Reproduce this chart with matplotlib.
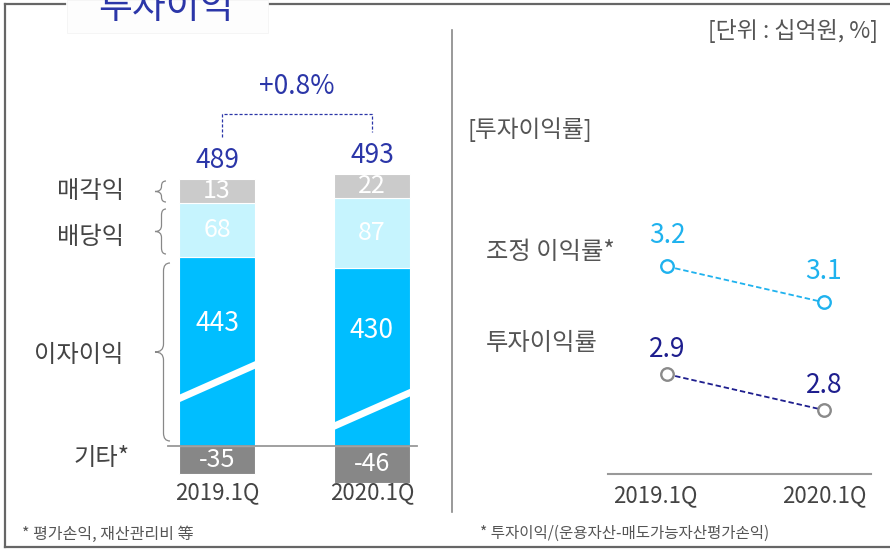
import numpy as np
import matplotlib
matplotlib.use('Agg')
import matplotlib.pyplot as plt
import matplotlib.transforms as mtransforms
from matplotlib.path import Path
from matplotlib.patches import PathPatch, Rectangle

plt.rcParams['font.family'] = ['Noto Sans CJK KR', 'DejaVu Sans']

# ---------------- data ----------------
periods = ['2019.1Q', '2020.1Q']
interest = [443, 430]      # 이자이익
dividend = [68, 87]        # 배당익
disposal = [13, 22]        # 매각익
other = [-35, -46]         # 기타*
totals = [489, 493]
adj_yield = [3.2, 3.1]     # 조정 이익률*
inv_yield = [2.9, 2.8]     # 투자이익률
seg_names = ['매각익', '배당익', '이자이익', '기타*']

# ---------------- style ----------------
C_INT = '#00BEFF'
C_DIV = '#C6F4FE'
C_DIS = '#CBCBCB'
C_OTH = '#878787'
BLUE = '#2B36A8'
CYAN = '#1FB2EE'
NAVY = '#1E1E8E'
GRAY_T = '#444444'
BREAK = 207      # broken-axis offset for 이자이익
MINBOX = 30      # minimum drawn height for small segments
stripe_frac = [(0.25, 0.43), (0.11, 0.30)]

W, H = 890, 549
fig = plt.figure(figsize=(W / 100, H / 100), dpi=100)
bg = fig.add_axes([0, 0, 1, 1])
bg.set_xlim(0, W)
bg.set_ylim(H, 0)
bg.axis('off')


def fpos(x0, y0, x1, y1):
    return [x0 / W, 1 - y1 / H, (x1 - x0) / W, (y1 - y0) / H]


# ---------------- frame ----------------
fc = '#666666'
bg.plot([5, 65], [4, 4], color=fc, lw=1.6)
bg.plot([270, 890], [4, 4], color=fc, lw=1.6)
bg.plot([5, 5], [4, 547], color=fc, lw=1.6)
bg.plot([5, 890], [547, 547], color=fc, lw=1.6)
bg.add_patch(Rectangle((67, 0), 201, 33, fc='#fdfdfd', ec='#f4f4f4', lw=0.6))
bg.text(166, 18, '투자이익', fontsize=26.5, color=BLUE, ha='center', va='baseline')
bg.plot([452, 452], [30, 512], color='#888888', lw=1.2)

# ---------------- bar chart ----------------
ax = fig.add_axes(fpos(140, 100, 450, 500))
ax.set_xlim(-(217 - 140) / 155, (450 - 217) / 155)
ax.set_ylim(-(500 - 446) / 0.8, (446 - 100) / 0.8)
ax.axis('off')

x = np.arange(len(periods))
int_d = np.array(interest) - BREAK
div_d = np.array(dividend)
dis_d = np.maximum(disposal, MINBOX)
oth_d = -np.maximum(np.abs(other), MINBOX)
bw = 0.49

b_int = ax.bar(x, int_d, width=bw, color=C_INT, edgecolor='white', linewidth=0.8)
ax.bar(x, div_d, bottom=int_d, width=bw, color=C_DIV, edgecolor='white', linewidth=0.8)
ax.bar(x, dis_d, bottom=int_d + div_d, width=bw, color=C_DIS, edgecolor='white', linewidth=0.8)
ax.bar(x, oth_d, width=bw, color=C_OTH, edgecolor='white', linewidth=0.8)

for i in range(len(periods)):
    f0, f1 = stripe_frac[i]
    ln, = ax.plot([i - bw / 2 - 0.02, i + bw / 2 + 0.02],
                  [f0 * int_d[i] - 1.5, f1 * int_d[i] + 1.5], color='white', lw=5)
    ln.set_clip_path(b_int[i])
    ax.text(i, 0.65 * int_d[i], str(interest[i]), color='white', fontsize=19,
            ha='center', va='center')
    ax.text(i, int_d[i] + div_d[i] / 2, str(dividend[i]), color='white', fontsize=18,
            ha='center', va='center')
    ax.text(i, int_d[i] + div_d[i] + dis_d[i] / 2, str(disposal[i]), color='white',
            fontsize=18, ha='center', va='center')
    ax.text(i, oth_d[i] / 2, str(other[i]), color='white', fontsize=18,
            ha='center', va='center')
    ax.text(i, -59, periods[i], color=GRAY_T, fontsize=16, ha='center', va='center')

ax.plot([-0.316, 1.29], [0, 0], color='#999999', lw=1.3)

tops = int_d + div_d + dis_d
for i in range(len(periods)):
    ax.annotate(str(totals[i]), (i, tops[i]), xytext=(0, 13), textcoords='offset points',
                ha='center', va='center', fontsize=19, color=BLUE)

yh = max(tops) + 75
ax.plot([0.03, 0.03, 1.0, 1.0], [tops[0] + 52, yh, yh, tops[1] + 52], color=BLUE,
        lw=0.9, ls=(0, (2.5, 1.5)), clip_on=False)
growth = (totals[1] / totals[0] - 1) * 100
ax.annotate(f'+{growth:.1f}%', (0.515, yh), xytext=(0, 20), textcoords='offset points',
            ha='center', va='center', fontsize=19, color=BLUE)

# labels and braces on the left
lab_y = [191, 237, 355, 458]
lab_x = [124, 124, 124, 130]
for name, lx, ly in zip(seg_names, lab_x, lab_y):
    bg.text(lx, ly, name, ha='right', va='center', fontsize=17.5, color=GRAY_T)


def brace(xr, xt, y0, y1, r=6):
    ym = (y0 + y1) / 2
    xm = (xr + xt) / 2 + 1
    verts = [(xr, y0), (xm, y0), (xm, y0 + r), (xm, ym - r), (xm, ym), (xt, ym),
             (xm, ym), (xm, ym + r), (xm, y1 - r), (xm, y1), (xr, y1)]
    codes = [Path.MOVETO, Path.CURVE3, Path.CURVE3, Path.LINETO, Path.CURVE3, Path.CURVE3,
             Path.CURVE3, Path.CURVE3, Path.LINETO, Path.CURVE3, Path.CURVE3]
    bg.add_patch(PathPatch(Path(verts, codes), fc='none', ec='#888888', lw=0.9))


brace(166, 155, 181, 202, r=5)
brace(166, 155, 209, 254)
brace(170, 155, 263, 441, r=8)

# ---------------- right: yields ----------------
bg.text(878, 31, '[단위 : 십억원, %]', ha='right', va='center', fontsize=16.5, color='#555555')
bg.text(467, 130, '[투자이익률]', ha='left', va='center', fontsize=17, color='#555555')
bg.text(486, 252, '조정 이익률*', ha='left', va='center', fontsize=17.5, color='#555555')
bg.text(486, 343, '투자이익률', ha='left', va='center', fontsize=17.5, color='#555555')

ax2 = fig.add_axes(fpos(608, 200, 871, 474))
ax2.set_xlim(-0.376, 1.299)
ax2.set_ylim(2.622, 3.385)
for s in ['top', 'left', 'right']:
    ax2.spines[s].set_visible(False)
ax2.spines['bottom'].set_color('#999999')
ax2.spines['bottom'].set_linewidth(1.5)
ax2.set_yticks([])
ax2.set_xticks(x)
ax2.set_xticklabels(periods, fontsize=16, color=GRAY_T)
ax2.tick_params(axis='x', length=0, pad=7)
lab0 = ax2.get_xticklabels()[0]
lab0.set_transform(lab0.get_transform() +
                   mtransforms.ScaledTranslation(-12 / 100, 0, fig.dpi_scale_trans))
ax2.patch.set_alpha(0)

ax2.plot(x, adj_yield, ls=(0, (3, 1.6)), color=CYAN, lw=1.3, marker='o', ms=9,
         mfc='white', mec=CYAN, mew=1.7, clip_on=False)
ax2.plot(x, inv_yield, ls=(0, (3, 1.6)), color=NAVY, lw=1.3, marker='o', ms=9,
         mfc='white', mec='#8A8A8A', mew=1.7, clip_on=False)
for i in range(len(periods)):
    ax2.annotate(f'{adj_yield[i]:.1f}', (i, adj_yield[i]), xytext=(0, 22),
                 textcoords='offset points', ha='center', va='center', fontsize=19, color=CYAN)
    ax2.annotate(f'{inv_yield[i]:.1f}', (i, inv_yield[i]), xytext=(0, 18),
                 textcoords='offset points', ha='center', va='center', fontsize=19, color=NAVY)

# footnotes
bg.text(22, 534, '* 평가손익, 재산관리비 等', fontsize=11.5, color='#555555', va='center')
bg.text(480, 533, '* 투자이익/(운용자산-매도가능자산평가손익)', fontsize=11.2, color='#555555',
        va='center')

fig.savefig('out.png', dpi=100)
